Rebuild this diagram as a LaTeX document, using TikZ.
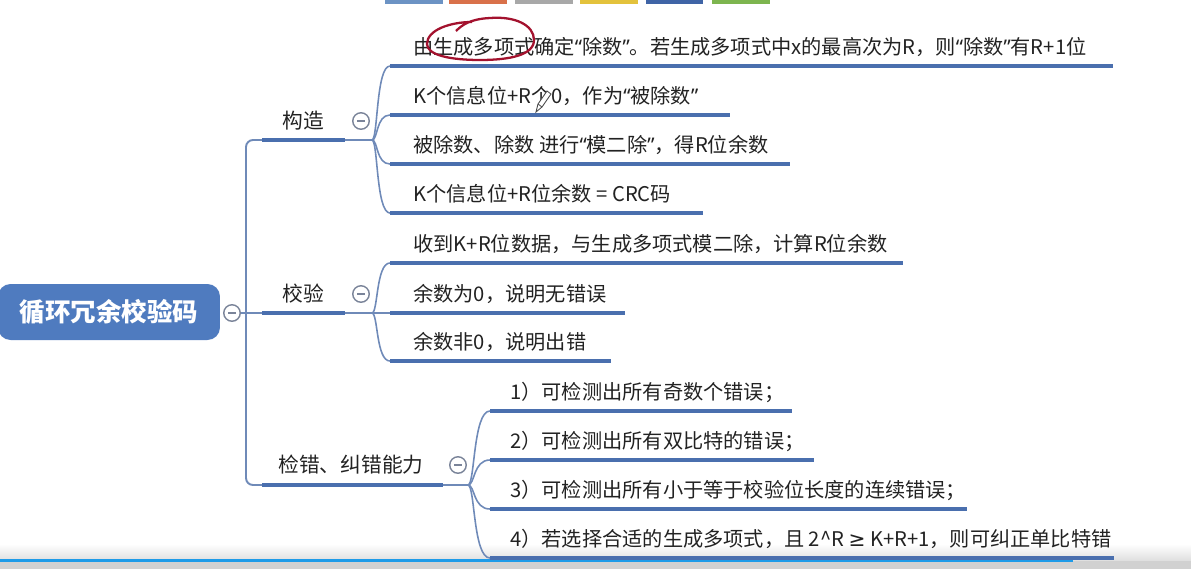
\documentclass[tikz,border=0pt]{standalone}
\usepackage{fontspec}
\setmainfont{Noto Sans CJK SC}
\newfontfamily\latinfont{Noto Sans}
\newfontfamily\symbolfont{DejaVu Sans}
\usepackage{tikz}
\usetikzlibrary{calc}

\definecolor{rootblue}{HTML}{4F7BBF}
\definecolor{barblue}{HTML}{4A6FAE}
\definecolor{linkblue}{HTML}{6F8AB8}
\definecolor{foldgray}{HTML}{7A8499}
\definecolor{inkred}{HTML}{A3122E}
\definecolor{progress}{HTML}{1E9BE8}
\definecolor{textdark}{HTML}{222222}

\newcommand\lqt{{\latinfont “}}
\newcommand\rqt{{\latinfont ”}}
\newcommand\geqsign{{\symbolfont ≥}}

\begin{document}
\begin{tikzpicture}[x=0.02cm, y=-0.02cm,
    bar/.style={barblue, line width=2.3pt},
    link/.style={linkblue, line width=0.9pt},
    leaf/.style={anchor=west, inner sep=0pt, text=textdark, font=\fontsize{11.5}{13}\selectfont},
    topic/.style={inner sep=0pt, text=textdark, font=\fontsize{11.8}{13}\selectfont},
    fold/.style={circle, draw=foldgray, line width=0.8pt, minimum size=0.33cm, inner sep=0pt, fill=white,
        path picture={\draw[foldgray, line width=0.8pt] ([xshift=-0.8mm]path picture bounding box.center) -- ([xshift=0.8mm]path picture bounding box.center);}},
    root/.style={rounded corners=0.25cm, fill=rootblue, text=white, minimum width=4.44cm, minimum height=1.12cm,
        font=\fontsize{14.5}{16}\selectfont\bfseries}]
    \useasboundingbox (0,0) rectangle (1191,569);

    % toolbar stubs and progress bar
    \foreach \xa/\xb/\c in {385/443/6C93C4, 449/507/D9714A, 515/573/A8A8A8, 580/638/E3C23C, 646/703/3F64A6, 712/770/7DB54F}
        {\definecolor{tb}{HTML}{\c}\fill[tb] (\xa,0) rectangle (\xb,4);}
    \shade[top color=white, bottom color=black!12] (0,544) rectangle (1191,560);
    \fill[black!18] (0,561) rectangle (1191,569);
    \fill[progress] (0,559) rectangle (1073,562);

    % root
    \node[root] (root) at (109,312) {循环冗余校验码};
    \node[fold] (rootfold) at (232,313) {};

    % main topics
    \coordinate (t1s) at (262,140);
    \coordinate (t1e) at (345,140);
    \coordinate (f1) at (372,140);
    \coordinate (t2s) at (262,313);
    \coordinate (t2e) at (345,313);
    \coordinate (f2) at (372,313);
    \coordinate (t3s) at (262,485);
    \coordinate (t3e) at (443,485);
    \coordinate (f3) at (468,485);

    \draw[link, line width=1.1pt, rounded corners=0.14cm] (t1s) -- (246,140) -- (246,485) -- (t3s);
    \draw[link] (rootfold) -- (t2s);
    \foreach \k in {1,2,3} {
        \draw[bar] (t\k s) -- (t\k e);
        \draw[link] (t\k e) -- (f\k);
    }

    \node[topic] (topic1) at (303,121) {构造};
    \node[fold] (fold1) at (361,121) {};
    \node[topic] (topic2) at (303,294) {校验};
    \node[fold] (fold2) at (361,294) {};
    \node[topic] (topic3) at (351,465) {检错、纠错能力};
    \node[fold] (fold3) at (458,465) {};

    % leaves
    \foreach \k/\y/\xe/\txt in {
        1/66/1113/{由生成多项式确定\lqt 除数\rqt 。若生成多项式中x的最高次为R，则\lqt 除数\rqt 有R+1位},
        2/115/730/{K个信息位+R个0，作为\lqt 被除数\rqt},
        3/164/790/{被除数、除数 进行\lqt 模二除\rqt ，得R位余数},
        4/213/703/{K个信息位+R位余数 = CRC码}} {
        \coordinate (a\k s) at (390,\y);
        \coordinate (a\k e) at (\xe,\y);
        \draw[link] (f1) .. controls (378,140) and (376,\y) .. (a\k s);
        \draw[bar] (a\k s) -- (a\k e);
        \node[leaf] (a\k) at (413,\y-19) {\txt};
    }
    \foreach \k/\y/\xe/\txt in {
        1/263/903/{收到K+R位数据，与生成多项式模二除，计算R位余数},
        2/313/625/{余数为0，说明无错误},
        3/361/611/{余数非0，说明出错}} {
        \coordinate (b\k s) at (390,\y);
        \coordinate (b\k e) at (\xe,\y);
        \draw[link] (f2) .. controls (378,313) and (376,\y) .. (b\k s);
        \draw[bar] (b\k s) -- (b\k e);
        \node[leaf] (b\k) at (413,\y-19) {\txt};
    }
    \foreach \k/\y/\xe/\txt in {
        1/411/792/{1）可检测出所有奇数个错误；},
        2/460/814/{2）可检测出所有双比特的错误；},
        3/509/967/{3）可检测出所有小于等于校验位长度的连续错误；},
        4/558/1114/{4）若选择合适的生成多项式，且 2\textasciicircum R \geqsign\ K+R+1，则可纠正单比特错}} {
        \coordinate (c\k s) at (490,\y);
        \coordinate (c\k e) at (\xe,\y);
        \draw[link] (f3) .. controls (475,485) and (473,\y) .. (c\k s);
        \draw[bar] (c\k s) -- (c\k e);
        \node[leaf] (c\k) at (510,\y-19) {\txt};
    }

    % hand-drawn mark and pencil
    \draw[inkred, line width=1.3pt] (456,31) .. controls (462,25) and (470,19) .. (490,18)
        .. controls (515,16) and (534,25) .. (534,40) .. controls (534,55) and (510,60) .. (480,60)
        .. controls (450,60) and (427,55) .. (427,44) .. controls (427,30) and (450,22) .. (472,22);
    \draw[black!70, line width=0.5pt, fill=white] (536,112) -- (538,104) -- (547,91) -- (551,94) -- (542,107) -- cycle;
    \draw[black!70, line width=0.5pt] (538,104) -- (542,107);
\end{tikzpicture}
\end{document}
